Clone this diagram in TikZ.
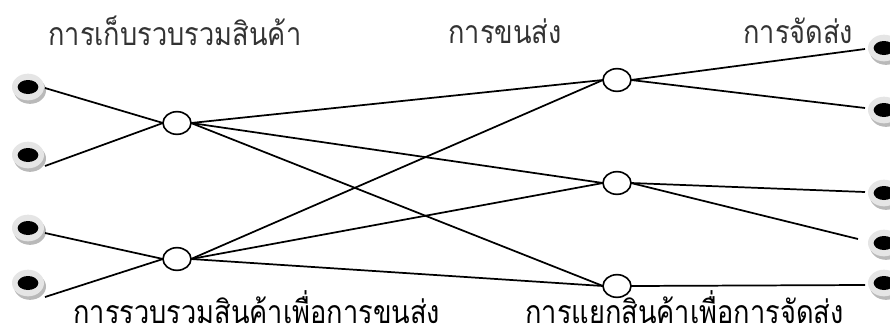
\documentclass[tikz,border=0pt]{standalone}
\usepackage{fontspec}
\newfontfamily\thaifont[Script=Thai,FakeStretch=0.85]{Loma}
\usetikzlibrary{shapes.geometric,calc}

% a grey button with a black core and a soft drop shadow
\newcommand\buttondot[2]{%
  \node[dotshadow] at ($(#2)+(2,3.5)$) {};
  \node[dotface] (#1) at (#2) {};
  \node[dotcore] at (#2) {};
}

\begin{document}
\begin{tikzpicture}[x=0.75pt,y=-0.75pt,
  hub/.style={ellipse, draw=black, line width=1.2pt, fill=white,
    minimum width=21pt, minimum height=17pt, inner sep=0pt, outer sep=0pt},
  dotface/.style={ellipse, fill=gray!20, minimum width=24pt, minimum height=20pt,
    inner sep=0pt, outer sep=0pt},
  dotshadow/.style={ellipse, fill=gray!55, minimum width=24pt, minimum height=20pt,
    inner sep=0pt},
  dotcore/.style={ellipse, fill=black, minimum width=15.5pt, minimum height=10.5pt,
    inner sep=0pt},
  link/.style={line width=1.3pt, black},
  label/.style={font=\thaifont\fontsize{24}{28}\selectfont, inner sep=0pt},
  toplabel/.style={label, text=black!80},
]
\useasboundingbox (0,0) rectangle (890,333);

% hubs
\node[hub] (A)  at (177,123) {};
\node[hub] (B)  at (177,259) {};
\node[hub] (R1) at (617,80)  {};
\node[hub] (R2) at (617,183) {};
\node[hub] (R3) at (617,286) {};

% sources on the left
\buttondot{L1}{28,87}
\buttondot{L2}{28,155}
\buttondot{L3}{28,228}
\buttondot{L4}{28,283}

% destinations on the right
\buttondot{D1}{884,48}
\buttondot{D2}{884,110}
\buttondot{D3}{884,193}
\buttondot{D4}{884,243}
\buttondot{D5}{884,283}

% attachment points on the buttons
\coordinate (L1e) at ($(L1)+(17,1)$);
\coordinate (L2e) at ($(L2)+(17,11)$);
\coordinate (L3e) at ($(L3)+(17,5)$);
\coordinate (L4e) at ($(L4)+(17,14)$);
\coordinate (D1e) at ($(D1)+(-19,1)$);
\coordinate (D2e) at ($(D2)+(-19,-2)$);
\coordinate (D3e) at ($(D3)+(-19,-1)$);
\coordinate (D4e) at ($(D4)+(-26,-4)$);
\coordinate (D5e) at ($(D5)+(-19,2)$);

% collection
\draw[link] (L1e) -- (A.west);
\draw[link] (L2e) -- (A.west);
\draw[link] (L3e) -- (B.west);
\draw[link] (L4e) -- (B.west);

% line haul
\foreach \s in {A,B}
  \foreach \t in {R1,R2,R3}
    \draw[link] (\s.east) -- (\t.west);

% delivery
\draw[link] (R1.east) -- (D1e);
\draw[link] (R1.east) -- (D2e);
\draw[link] (R2.east) -- (D3e);
\draw[link] (R2.east) -- (D4e);
\draw[link] (R3.east) -- (D5e);

% captions
\node[toplabel, anchor=base west] (t1) at (48,45)  {การเก็บรวบรวมสินค้า};
\node[toplabel, anchor=base west] (t2) at (448,43) {การขนส่ง};
\node[toplabel, anchor=base west] (t3) at (743,43) {การจัดส่ง};
\node[label, anchor=base west] (b1) at (73,323)  {การรวบรวมสินค้าเพื่อการขนส่ง};
\node[label, anchor=base west] (b2) at (525,323) {การแยกสินค้าเพื่อการจัดส่ง};
\end{tikzpicture}
\end{document}
